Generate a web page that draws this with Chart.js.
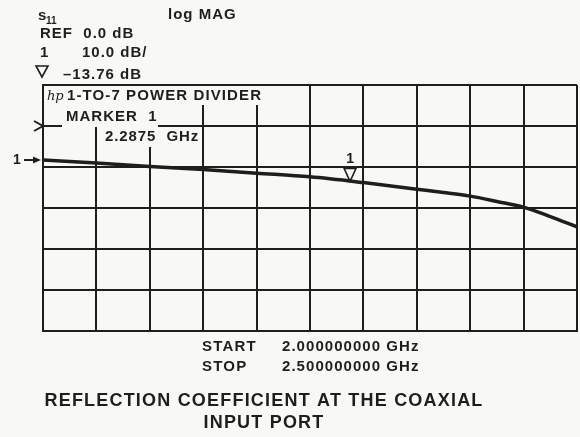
<!DOCTYPE html>
<html>
<head>
<meta charset="utf-8">
<script src="https://cdn.jsdelivr.net/npm/chart.js@4"></script>
<style>
html,body{margin:0;padding:0;background:#f8f8f6;}
#wrap{width:580px;height:437px;position:relative;}
</style>
</head>
<body>
<div id="wrap"><canvas id="c"></canvas></div>
<script>
// ---- data ----
const freqGHz = [2.00, 2.05, 2.10, 2.15, 2.20, 2.25, 2.30, 2.35, 2.375, 2.40, 2.425, 2.45, 2.475, 2.50];
const s11dB   = [-8.3, -9.0, -9.9, -10.6, -11.5, -12.4, -13.8, -15.4, -16.2, -17.1, -18.4, -19.8, -22.1, -24.6];
const markerFreq = [2.2875];
const markerValue = [-13.76];
const refLevel = 0.0;          // dB
const scalePerDiv = 10.0;      // dB/div
const yTop = 10, yBottom = -50;
const xStart = 2.0, xStop = 2.5, xStep = 0.05;

const INK = '#1f1f1a';
const BG = '#f8f8f6';
const FONT = '"Liberation Sans", Arial, Helvetica, sans-serif';

function txt(ctx, s, x, y, font, ls) {
  ctx.font = font;
  ctx.letterSpacing = (ls || 0) + 'px';
  ctx.fillText(s, x, y);
  ctx.letterSpacing = '0px';
}

const annot = {
  id: 'annot',
  afterDatasetsDraw(chart) {
    const ctx = chart.ctx;
    const xs = chart.scales.x, ys = chart.scales.y;
    const F15 = 'bold 15px ' + FONT;
    ctx.save();
    ctx.strokeStyle = INK;
    ctx.textBaseline = 'middle';
    // white boxes covering grid
    ctx.fillStyle = BG;
    ctx.fillRect(45, 86, 218, 19);
    ctx.fillRect(62, 105, 96, 22);
    ctx.fillRect(103, 127, 97, 20);
    ctx.fillStyle = INK;
    // hp logo + title
    txt(ctx, 'hp', 47, 97, 'italic 13px "DejaVu Serif", serif', 0);
    txt(ctx, '1-TO-7 POWER DIVIDER', 67, 96, F15, 1.1);
    txt(ctx, 'MARKER  1', 66, 117, F15, 1);
    txt(ctx, '2.2875  GHz', 105, 137, F15, 0.9);

    // reference level marker ">"
    const yRef = ys.getPixelForValue(refLevel);
    ctx.lineWidth = 2;
    ctx.beginPath();
    ctx.moveTo(34, yRef - 5); ctx.lineTo(43, yRef); ctx.lineTo(34, yRef + 5);
    ctx.stroke();
    // "1 ->" trace marker
    const y1 = ys.getPixelForValue(s11dB[0]);
    txt(ctx, '1', 13, y1, 'bold 14px ' + FONT, 0);
    ctx.beginPath(); ctx.moveTo(24, y1); ctx.lineTo(34, y1); ctx.stroke();
    ctx.beginPath(); ctx.moveTo(33, y1 - 3.5); ctx.lineTo(41, y1); ctx.lineTo(33, y1 + 3.5); ctx.closePath(); ctx.fill();

    // marker triangle on the trace
    const mx = xs.getPixelForValue(markerFreq[0]);
    const my = ys.getPixelForValue(markerValue[0]);
    ctx.lineWidth = 1.6;
    ctx.beginPath();
    ctx.moveTo(mx - 6, my - 14); ctx.lineTo(mx + 6, my - 14); ctx.lineTo(mx, my - 1); ctx.closePath();
    ctx.stroke();
    ctx.textAlign = 'center';
    txt(ctx, '1', mx, my - 23, 'bold 14px ' + FONT, 0);
    ctx.textAlign = 'left';

    // header texts
    txt(ctx, 's', 38, 16, F15, 0);
    txt(ctx, '11', 46, 21, 'bold 10px ' + FONT, 0);
    txt(ctx, 'log MAG', 168, 15, F15, 1);
    txt(ctx, 'REF  0.0 dB', 40, 34, F15, 1);
    txt(ctx, '1', 40, 53, F15, 0);
    txt(ctx, scalePerDiv.toFixed(1) + ' dB/', 82, 53, F15, 1);
    txt(ctx, '\u2013' + Math.abs(markerValue[0]).toFixed(2) + ' dB', 63, 75, F15, 1);
    // small triangle header
    ctx.lineWidth = 1.6;
    ctx.beginPath();
    ctx.moveTo(36, 66); ctx.lineTo(48, 66); ctx.lineTo(42, 77); ctx.closePath();
    ctx.stroke();

    // start / stop
    txt(ctx, 'START', 202, 347, F15, 1.2);
    txt(ctx, xStart.toFixed(9) + ' GHz', 282, 347, F15, 1.05);
    txt(ctx, 'STOP', 202, 367, F15, 1.2);
    txt(ctx, xStop.toFixed(9) + ' GHz', 282, 367, F15, 1.05);

    // caption
    ctx.textAlign = 'center';
    txt(ctx, 'REFLECTION COEFFICIENT AT THE COAXIAL', 264, 401, 'bold 18px ' + FONT, 1.2);
    txt(ctx, 'INPUT PORT', 264, 423, 'bold 18px ' + FONT, 1.2);
    ctx.restore();
  }
};

new Chart(document.getElementById('c'), {
  type: 'line',
  data: {
    datasets: [{
      data: freqGHz.map((f, i) => ({x: f, y: s11dB[i]})),
      borderColor: INK,
      borderWidth: 3.5,
      pointRadius: 0,
      tension: 0.35,
      cubicInterpolationMode: 'monotone',
      fill: false
    }]
  },
  options: {
    responsive: true,
    maintainAspectRatio: false,
    animation: false,
    layout: {padding: {left: 43, right: 3, top: 85, bottom: 106}},
    plugins: {legend: {display: false}, tooltip: {enabled: false}},
    scales: {
      x: {
        type: 'linear', min: xStart, max: xStop,
        ticks: {display: false, stepSize: xStep},
        grid: {color: INK, lineWidth: 2, drawTicks: false, tickLength: 0},
        border: {display: true, color: INK, width: 2}
      },
      y: {
        type: 'linear', min: yBottom, max: yTop,
        ticks: {display: false, stepSize: scalePerDiv},
        grid: {color: INK, lineWidth: 2, drawTicks: false, tickLength: 0},
        border: {display: true, color: INK, width: 2}
      }
    }
  },
  plugins: [annot]
});
</script>
</body>
</html>
